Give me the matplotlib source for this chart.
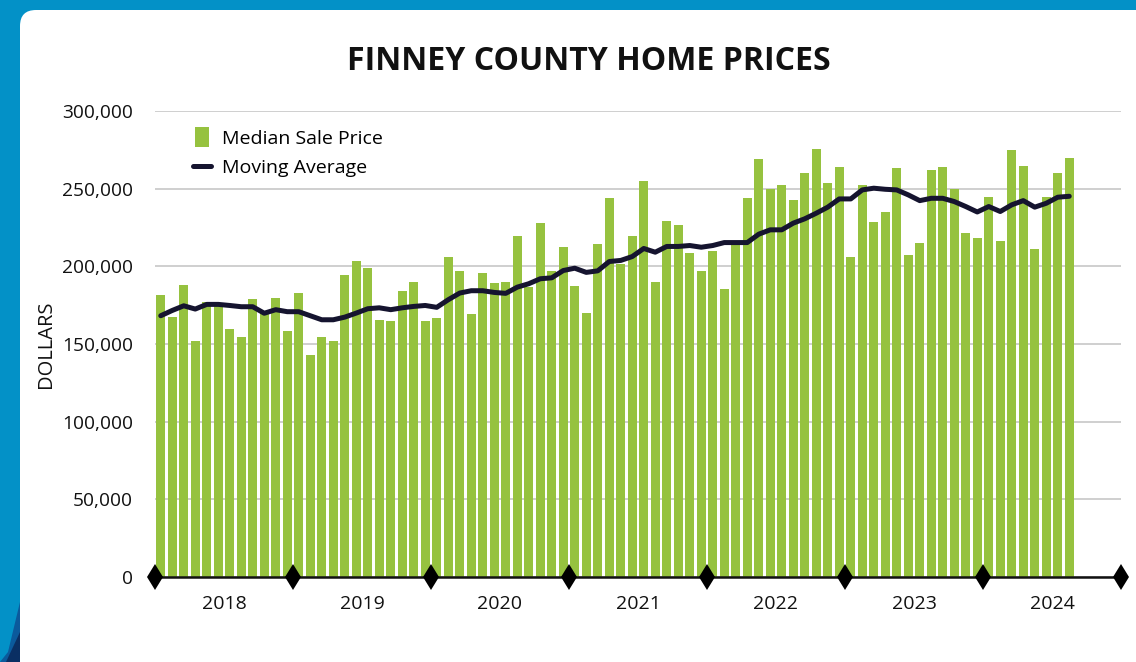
import matplotlib
matplotlib.use("Agg")
import matplotlib.pyplot as plt
from matplotlib.patches import FancyBboxPatch, Polygon
from matplotlib.lines import Line2D
import numpy as np

years = ["2018", "2019", "2020", "2021", "2022", "2023", "2024"]

median_price = [
    # 2018
    181.7, 167.6, 188.1, 152.1, 177.2, 176.0, 159.9, 154.7, 179.1, 170.0, 179.8, 158.6,
    # 2019
    183.0, 143.1, 154.7, 152.1, 194.6, 203.6, 199.1, 165.6, 165.0, 184.3, 190.1, 165.0,
    # 2020
    166.9, 206.1, 197.1, 169.5, 195.8, 189.4, 190.1, 219.6, 186.5, 228.0, 197.1, 212.6,
    # 2021
    187.5, 170.1, 214.5, 244.1, 201.2, 219.6, 255.0, 190.1, 229.3, 226.7, 208.7, 197.1,
    # 2022
    210.0, 185.6, 214.0, 244.1, 269.1, 249.8, 252.4, 242.8, 260.1, 275.6, 253.7, 264.0,
    # 2023
    206.1, 252.4, 228.6, 235.1, 263.3, 207.4, 215.1, 262.1, 264.0, 249.8, 221.6, 218.4,
    # 2024
    244.7, 216.4, 274.9, 264.6, 211.3, 244.7, 260.1, 269.8,
]
median_price = [v * 1000 for v in median_price]

moving_avg = [
    # 2018
    168.2, 171.6, 174.6, 172.5, 175.5, 175.5, 174.8, 174.0, 174.0, 169.8, 172.1, 170.8,
    # 2019
    170.8, 168.2, 165.6, 165.6, 167.3, 169.9, 172.7, 173.3, 172.1, 173.3, 174.2, 174.8,
    # 2020
    173.6, 178.5, 182.8, 184.3, 184.3, 183.2, 182.6, 186.6, 188.8, 192.0, 192.6, 197.3,
    # 2021
    198.8, 196.1, 197.1, 203.1, 203.8, 206.3, 211.5, 209.1, 212.8, 212.8, 213.4, 212.3,
    # 2022
    213.4, 215.3, 215.3, 215.3, 220.7, 223.5, 223.5, 227.8, 230.6, 234.2, 238.1, 243.4,
    # 2023
    243.4, 249.2, 250.3, 249.6, 249.2, 246.0, 242.3, 243.8, 243.8, 241.7, 238.5, 235.0,
    # 2024
    238.5, 235.3, 239.6, 242.3, 238.1, 240.6, 244.5, 245.1,
]
moving_avg = [v * 1000 for v in moving_avg]

GREEN = "#96C23F"
NAVY = "#15142F"
BLUE = "#0391C7"
TEXT = "#111111"

plt.rcParams["font.family"] = ["Open Sans", "DejaVu Sans"]

W, H = 1136, 662
fig = plt.figure(figsize=(W / 100, H / 100), dpi=100)
fig.patch.set_facecolor(BLUE)

# dark decoration at bottom-left corner of the blue frame
fig.patches.append(Polygon([(0, 0), (20, 0), (20, 60), (8, 10)], closed=True, transform=None,
                           facecolor="#0B5A9C", edgecolor="none", zorder=-11))
fig.patches.append(Polygon([(6, 0), (20, 0), (20, 30)], closed=True, transform=None,
                           facecolor="#0A2F63", edgecolor="none", zorder=-11))

card = FancyBboxPatch((20, -60), 1200, 652 + 60, boxstyle="round,pad=0,rounding_size=16",
                      transform=None, facecolor="white", edgecolor="none", zorder=-10)
fig.patches.append(card)

ax = fig.add_axes([155 / W, 85 / H, 966 / W, 466 / H])
ax.set_facecolor("none")
ax.set_zorder(1)

n_months = len(median_price)
x = np.arange(n_months) + 0.5
ax.bar(x, median_price, width=0.76, color=GREEN, zorder=2)
ax.plot(x, moving_avg, color=NAVY, lw=3.6, solid_capstyle="round", solid_joinstyle="round",
        zorder=3)

ax.set_xlim(0, 84)
ax.set_ylim(0, 300000)
yt = np.arange(0, 300001, 50000)
ax.set_yticks(yt)
ax.set_yticklabels([f"{int(v):,}" for v in yt], fontsize=13.8, color=TEXT)
ax.yaxis.grid(True, color="#CBCBCB", lw=1.3, zorder=0)
ax.set_axisbelow(True)
ax.tick_params(axis="y", length=0, pad=16)

bounds = np.arange(0, 85, 12)
ax.set_xticks(bounds)
ax.set_xticklabels([])
ax.set_xticks(np.arange(6, 84, 12), minor=True)
ax.set_xticklabels(years, minor=True, fontsize=14, color=TEXT)
ax.tick_params(axis="x", which="both", length=0)
ax.tick_params(axis="x", which="minor", pad=13)

for s in ["top", "right", "left"]:
    ax.spines[s].set_visible(False)
ax.spines["bottom"].set_color(TEXT)
ax.spines["bottom"].set_linewidth(1.8)
ax.spines["bottom"].set_zorder(4)

ax.plot(bounds, np.zeros(len(bounds)), linestyle="none", marker="d", markersize=13.5,
        markeredgewidth=0, color="black", clip_on=False, zorder=5)

ax.set_ylabel("DOLLARS", fontsize=14.5, color=TEXT)
ax.yaxis.set_label_coords((56 - 155) / 966, 0.5)

bar_handle = Line2D([], [], linestyle="none", color=GREEN,
                    marker=[(-0.33, -0.5), (0.33, -0.5), (0.33, 0.5), (-0.33, 0.5)],
                    markersize=14.5, markeredgewidth=0)
line_handle = Line2D([], [], color=NAVY, lw=3.6, solid_capstyle="round")
ax.legend([bar_handle, line_handle], ["Median Sale Price", "Moving Average"],
          loc="upper left", bbox_to_anchor=(0.0201, 1.0), borderaxespad=0.56,
          frameon=False, fontsize=14, handlelength=0.93, handletextpad=0.57,
          labelspacing=0.57)

fig.text(589 / W, 1 - 61 / H, "FINNEY COUNTY HOME PRICES", ha="center", va="center",
         fontsize=23, fontweight="bold", color=TEXT)

fig.savefig("out.png", dpi=100, facecolor=fig.get_facecolor())
